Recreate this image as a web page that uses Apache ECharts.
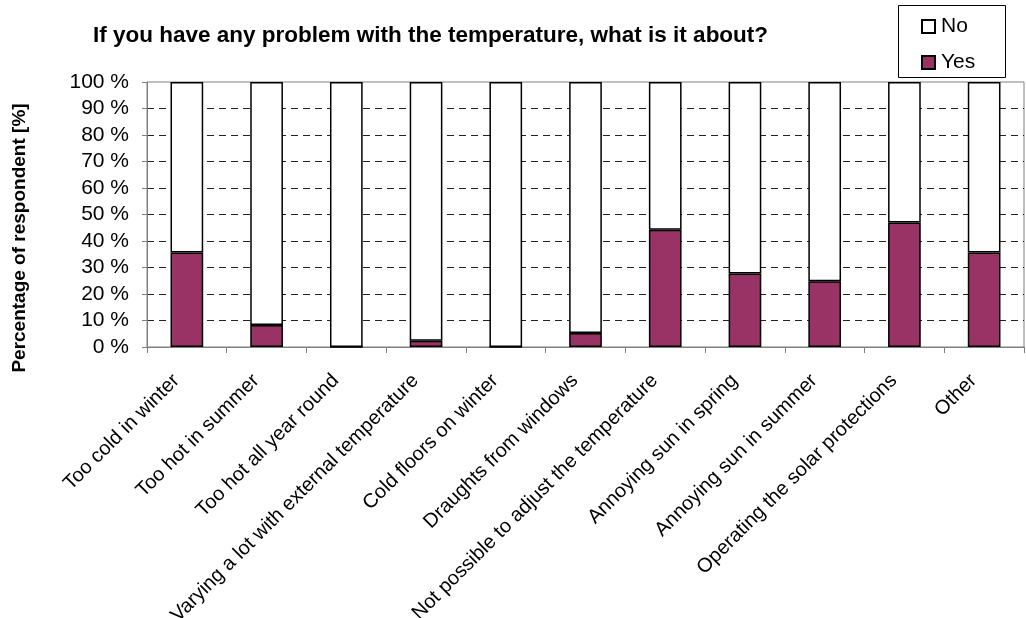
<!DOCTYPE html>
<html>
<head>
<meta charset="utf-8">
<script src="https://cdn.jsdelivr.net/npm/echarts@6/dist/echarts.min.js"></script>
<style>
  html, body { margin: 0; padding: 0; background: #fff; }
  #main { width: 1026px; height: 618px; }
</style>
</head>
<body>
<div id="main"></div>
<script>
// categories and values
var categories = [
    'Too cold in winter',
    'Too hot in summer',
    'Too hot all year round',
    'Varying a lot with external temperature',
    'Cold floors on winter',
    'Draughts from windows',
    'Not possible to adjust the temperature',
    'Annoying sun in spring',
    'Annoying sun in summer',
    'Operating the solar protections',
    'Other'
];
var yesValues = [35.7, 8.3, 0, 2.4, 0, 5.3, 44.2, 27.7, 24.8, 47.0, 35.7];
var noValues = [64.3, 91.7, 100, 97.6, 100, 94.7, 55.8, 72.3, 75.2, 53.0, 64.3];
var yTicks = [0, 10, 20, 30, 40, 50, 60, 70, 80, 90, 100];

var FONT = '"Liberation Sans", Arial, sans-serif';

var myChart = echarts.init(document.getElementById('main'));

var option = {
    backgroundColor: '#fff',
    animation: false,
    textStyle: { fontFamily: FONT },
    title: {
        text: 'If you have any problem with the temperature, what is it about?',
        left: 93,
        top: 24,
        padding: 0,
        textStyle: { fontFamily: FONT, fontSize: 22.5, fontWeight: 'bold', color: '#000' }
    },
    legend: {
        orient: 'vertical',
        left: 921,
        top: 16,
        padding: 0,
        itemGap: 15,
        itemWidth: 13,
        itemHeight: 13,
        icon: 'rect',
        data: ['No', 'Yes'],
        textStyle: { fontFamily: FONT, fontSize: 21, color: '#000', padding: [0, 0, 0, 1] }
    },
    graphic: [
        {
            type: 'rect',
            shape: { x: 898.5, y: 5.5, width: 107, height: 72 },
            style: { fill: 'none', stroke: '#000', lineWidth: 1 },
            z: 10
        },
        {
            type: 'text',
            x: 20,
            y: 238,
            rotation: Math.PI / 2,
            style: {
                text: 'Percentage of respondent [%]',
                fontFamily: FONT,
                fontSize: 19,
                fontWeight: 'bold',
                fill: '#000',
                align: 'center',
                verticalAlign: 'middle'
            }
        }
    ],
    grid: {
        left: 147,
        right: 2,
        top: 82,
        bottom: 271,
        outerBoundsMode: 'none',
        containLabel: false,
        show: true,
        borderColor: '#808080',
        borderWidth: 1,
        backgroundColor: 'transparent'
    },
    xAxis: {
        type: 'category',
        data: categories,
        axisLine: { lineStyle: { color: '#808080', width: 1 } },
        axisTick: { show: true, length: 6, lineStyle: { color: '#808080' } },
        axisLabel: {
            rotate: 45,
            interval: 0,
            margin: 20,
            padding: [13, 15, 0, 0],
            fontFamily: FONT,
            fontSize: 20,
            color: '#000'
        }
    },
    yAxis: {
        type: 'value',
        min: 0,
        max: 100,
        interval: 10,
        axisLine: { show: true, lineStyle: { color: '#808080', width: 1 } },
        axisTick: { show: true, length: 5, lineStyle: { color: '#808080' } },
        axisLabel: {
            margin: 18,
            fontFamily: FONT,
            fontSize: 21,
            color: '#000',
            formatter: function (v) { return yTicks.indexOf(v) >= 0 ? v + ' %' : ''; }
        },
        splitLine: {
            show: true,
            showMinLine: false,
            showMaxLine: false,
            lineStyle: { color: '#222', type: [7, 5], width: 1 }
        }
    },
    series: [
        {
            name: 'Yes',
            type: 'bar',
            stack: 'total',
            barWidth: '41%',
            data: yesValues,
            itemStyle: { color: '#993366', borderColor: '#000', borderWidth: 1.5 }
        },
        {
            name: 'No',
            type: 'bar',
            stack: 'total',
            barWidth: '41%',
            data: noValues,
            itemStyle: { color: '#fff', borderColor: '#000', borderWidth: 1.5 }
        }
    ]
};

myChart.setOption(option);
</script>
</body>
</html>
